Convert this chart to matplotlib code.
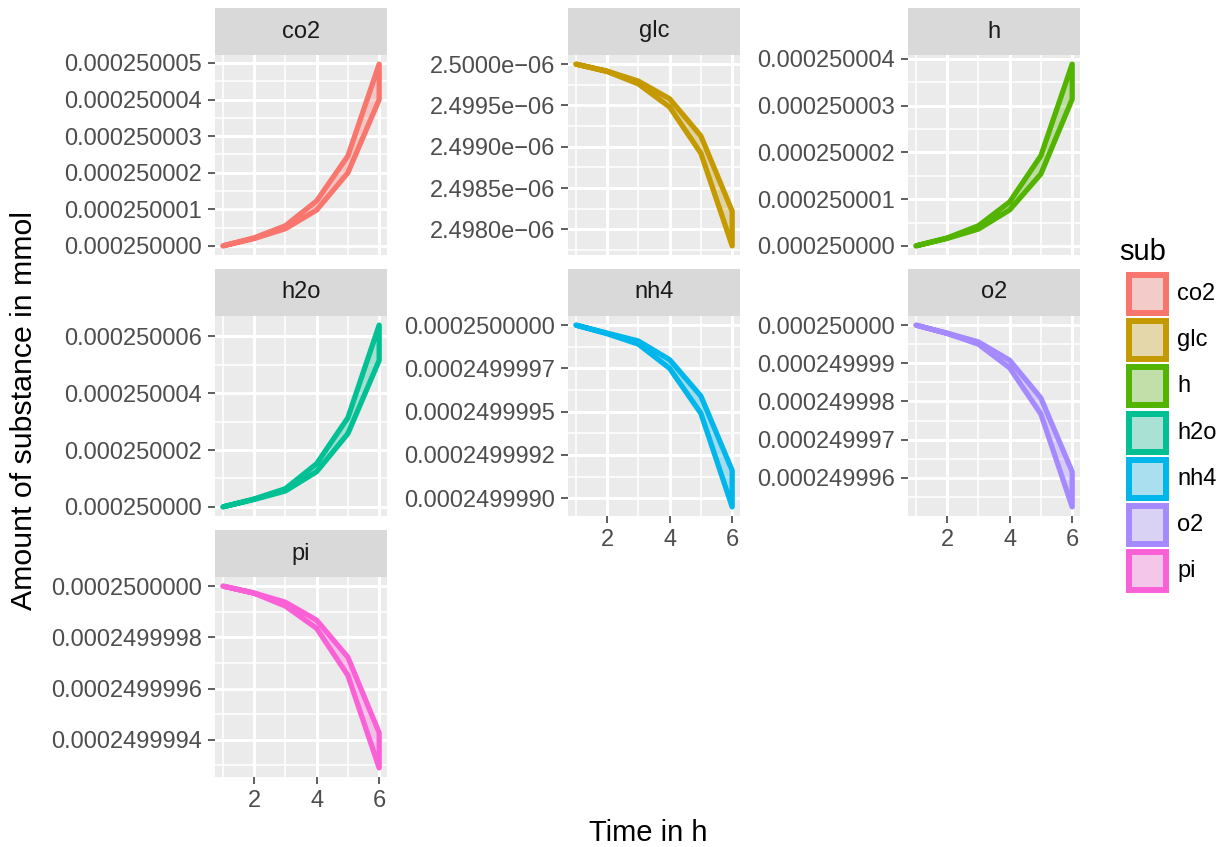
import numpy as np
import matplotlib
matplotlib.use('Agg')
import matplotlib.pyplot as plt
from matplotlib.patches import Rectangle
from matplotlib.colors import to_rgba

plt.rcParams['font.family'] = ['Liberation Sans', 'DejaVu Sans']

# data (upper / lower bound per substance)
time_h = [1, 2, 3, 4, 5, 6]
subs = ['co2', 'glc', 'h', 'h2o', 'nh4', 'o2', 'pi']
colors = ['#F8766D', '#C49A00', '#53B400', '#00C094', '#00B6EB', '#A58AFF', '#FB61D7']

co2_hi = [0.00025, 0.00025000022, 0.00025000055, 0.00025000123, 0.00025000246, 0.00025000497]
co2_lo = [0.00025, 0.00025000020, 0.00025000047, 0.00025000098, 0.00025000200, 0.00025000400]
glc_hi = [2.5e-06, 2.499915e-06, 2.499794e-06, 2.49958e-06, 2.49913e-06, 2.49822e-06]
glc_lo = [2.5e-06, 2.49991e-06, 2.49976e-06, 2.49948e-06, 2.49892e-06, 2.49780e-06]
h_hi = [0.00025, 0.00025000017, 0.00025000043, 0.00025000094, 0.00025000193, 0.00025000389]
h_lo = [0.00025, 0.00025000016, 0.00025000036, 0.00025000077, 0.00025000154, 0.00025000314]
h2o_hi = [0.00025, 0.00025000028, 0.00025000064, 0.00025000152, 0.00025000314, 0.0002500064]
h2o_lo = [0.00025, 0.00025000026, 0.00025000056, 0.00025000124, 0.00025000258, 0.00025000516]
nh4_hi = [0.00025, 0.000249999954, 0.000249999908, 0.0002499998, 0.00024999959, 0.00024999916]
nh4_lo = [0.00025, 0.00024999995, 0.00024999989, 0.00024999975, 0.00024999949, 0.00024999895]
o2_hi = [0.00025, 0.00024999979, 0.00024999956, 0.00024999908, 0.00024999809, 0.00024999616]
o2_lo = [0.00025, 0.00024999978, 0.0002499995, 0.00024999888, 0.00024999767, 0.00024999524]
pi_hi = [0.00025, 0.000249999973, 0.000249999937, 0.000249999867, 0.000249999722, 0.000249999427]
pi_lo = [0.00025, 0.000249999972, 0.000249999922, 0.000249999835, 0.000249999651, 0.00024999929]

upper = [co2_hi, glc_hi, h_hi, h2o_hi, nh4_hi, o2_hi, pi_hi]
lower = [co2_lo, glc_lo, h_lo, h2o_lo, nh4_lo, o2_lo, pi_lo]

# y tick values and their labels per panel
yticks = [
    [0.000250000, 0.000250001, 0.000250002, 0.000250003, 0.000250004, 0.000250005],
    [2.4980e-06, 2.4985e-06, 2.4990e-06, 2.4995e-06, 2.5000e-06],
    [0.000250000, 0.000250001, 0.000250002, 0.000250003, 0.000250004],
    [0.000250000, 0.000250002, 0.000250004, 0.000250006],
    [0.000249999, 0.00024999925, 0.0002499995, 0.00024999975, 0.00025],
    [0.000249996, 0.000249997, 0.000249998, 0.000249999, 0.000250000],
    [0.0002499994, 0.0002499996, 0.0002499998, 0.00025],
]
ylabels = [
    ['0.000250000', '0.000250001', '0.000250002', '0.000250003', '0.000250004', '0.000250005'],
    ['2.4980e\u221206', '2.4985e\u221206', '2.4990e\u221206', '2.4995e\u221206', '2.5000e\u221206'],
    ['0.000250000', '0.000250001', '0.000250002', '0.000250003', '0.000250004'],
    ['0.000250000', '0.000250002', '0.000250004', '0.000250006'],
    ['0.0002499990', '0.0002499992', '0.0002499995', '0.0002499997', '0.0002500000'],
    ['0.000249996', '0.000249997', '0.000249998', '0.000249999', '0.000250000'],
    ['0.0002499994', '0.0002499996', '0.0002499998', '0.0002500000'],
]
xticks = [2, 4, 6]

W, H = 1224, 847
fig = plt.figure(figsize=(W / 100, H / 100), dpi=100)


def px_axes(x, y, w, h):
    return fig.add_axes([x / W, 1 - (y + h) / H, w / W, h / H])


col_x = [215, 568, 908]
row_y = [8, 269, 530]
pw, ph, sh = 172, 200, 47
bottom_panels = {'nh4', 'o2', 'pi'}

for i, sub in enumerate(subs):
    r, c = divmod(i, 3)
    x0, y0 = col_x[c], row_y[r]

    # strip
    sax = px_axes(x0, y0, pw, sh)
    sax.set_facecolor('#D9D9D9')
    sax.set_xticks([]); sax.set_yticks([])
    for s in sax.spines.values():
        s.set_visible(False)
    sax.text(0.5, 0.5, sub, ha='center', va='center', fontsize=17, color='#1A1A1A',
             transform=sax.transAxes)

    ax = px_axes(x0, y0 + sh, pw, ph)
    ax.set_facecolor('#EBEBEB')
    for s in ax.spines.values():
        s.set_visible(False)

    hi = np.array(upper[i]); lo = np.array(lower[i])
    ymin, ymax = min(hi.min(), lo.min()), max(hi.max(), lo.max())
    pad = (ymax - ymin) * 0.05
    ax.set_ylim(ymin - pad, ymax + pad)
    ax.set_xlim(1 - 0.25, 6 + 0.25)

    # grid
    yt = yticks[i]
    step = yt[1] - yt[0]
    minors = [v + step / 2 for v in [yt[0] - step] + yt]
    lo_lim, hi_lim = ax.get_ylim()
    minors = [m for m in minors if lo_lim < m < hi_lim]
    for m in minors:
        ax.axhline(m, color='white', lw=1.1, zorder=0.5)
    for m in [1, 3, 5]:
        ax.axvline(m, color='white', lw=1.1, zorder=0.5)
    for v in yt:
        ax.axhline(v, color='white', lw=2.2, zorder=0.6)
    for v in xticks:
        ax.axvline(v, color='white', lw=2.2, zorder=0.6)

    xs = np.concatenate([time_h, time_h[::-1]])
    ys = np.concatenate([hi, lo[::-1]])
    ax.fill(xs, ys, facecolor=to_rgba(colors[i], 0.3), edgecolor=colors[i],
            lw=3.8, joinstyle='round', zorder=2)

    ax.set_yticks(yt)
    ax.set_yticklabels(ylabels[i])
    ax.tick_params(axis='y', length=5, width=1.1, color='#333333', pad=4.3,
                   labelsize=17, labelcolor='#4D4D4D')
    if sub in bottom_panels:
        ax.set_xticks(xticks)
        ax.set_xticklabels([str(v) for v in xticks])
        ax.tick_params(axis='x', length=5, width=1.1, color='#333333', pad=4.3,
                       labelsize=17, labelcolor='#4D4D4D')
    else:
        ax.set_xticks([])

fig.text(648 / W, 1 - 833 / H, 'Time in h', ha='center', va='center', fontsize=21)
fig.text(24 / W, 1 - 410 / H, 'Amount of substance in mmol', ha='center', va='center',
         rotation=90, fontsize=21.8)

# legend
lax = px_axes(1100, 230, 124, 380)
lax.set_xlim(1100, 1224)
lax.set_ylim(610, 230)
lax.axis('off')
lax.text(1119, 252, 'sub', ha='left', va='center', fontsize=21)
for k, sub in enumerate(subs):
    top = 272 + k * 46.2
    lax.add_patch(Rectangle((1126, top), 43, 44, facecolor='#F2F2F2', edgecolor='none'))
    lax.add_patch(Rectangle((1129, top + 3), 37, 38, facecolor=to_rgba(colors[k], 0.3),
                            edgecolor=colors[k], lw=4.3))
    lax.text(1177, top + 22, sub, ha='left', va='center', fontsize=17)

fig.savefig('out.png', dpi=100)
